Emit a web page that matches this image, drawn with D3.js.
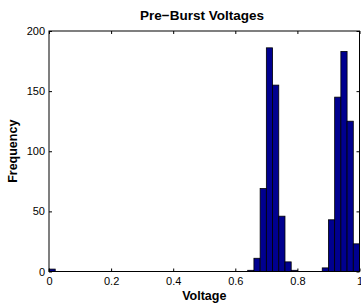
<!DOCTYPE html>
<html>
<head>
<meta charset="utf-8">
<script src="https://cdn.jsdelivr.net/npm/d3@7"></script>
<style>
  body { margin: 0; background: #fff; }
  svg { display: block; font-family: "Liberation Sans", Arial, sans-serif; }
</style>
</head>
<body>
<script>
// histogram bins: left edges (0.02 wide) and counts
let binStarts = d3.range(0, 50).map(i => +(i * 0.02).toFixed(2));
let counts = [
  2, 0, 0, 0, 0, 0, 0, 0, 0, 0,
  0, 0, 0, 0, 0, 0, 0, 0, 0, 0,
  0, 0, 0, 0, 0, 0, 0, 0, 0, 0,
  0, 0, 1, 11, 69, 186, 155, 46, 8, 1,
  0, 0, 0, 0, 3, 43, 145, 183, 125, 23
];
let xTicks = [0, 0.2, 0.4, 0.6, 0.8, 1];
let yTicks = [0, 50, 100, 150, 200];

let W = 361, H = 304;
let margin = {top: 31, right: 1.5, bottom: 32.5, left: 49};
let width = W - margin.left - margin.right,
    height = H - margin.top - margin.bottom;

let x = d3.scaleLinear().domain([0, 1]).range([0, width]);
let y = d3.scaleLinear().domain([0, 200]).range([height, 0]);

let svg = d3.select("body").append("svg")
    .attr("width", W)
    .attr("height", H);

let g = svg.append("g")
    .attr("transform", "translate(" + margin.left + "," + margin.top + ")");

// bars
g.selectAll(".bar")
    .data(counts)
    .enter()
  .append("rect")
    .attr("class", "bar")
    .attr("x", (d, i) => x(binStarts[i]))
    .attr("width", x(0.02) - x(0))
    .attr("y", d => y(d))
    .attr("height", d => y(0) - y(d))
    .attr("fill", "#00008f")
    .attr("stroke", "#000")
    .attr("stroke-width", 0.8);

// axes, ticks pointing inward like matlab
let tk = 3;
g.append("g")
    .attr("transform", "translate(0," + height + ")")
    .call(d3.axisBottom(x).tickValues(xTicks).tickSizeInner(-tk).tickSizeOuter(0)
      .tickPadding(6).tickFormat(d3.format("~g")))
    .call(a => a.selectAll("text").attr("font-size", 11).attr("fill", "#000").attr("font-family", null));
g.append("g")
    .call(d3.axisTop(x).tickValues(xTicks).tickSizeInner(-tk).tickSizeOuter(0).tickFormat(""));
g.append("g")
    .call(d3.axisLeft(y).tickValues(yTicks).tickSizeInner(-tk).tickSizeOuter(0).tickPadding(4))
    .call(a => a.selectAll("text").attr("font-size", 11).attr("fill", "#000").attr("font-family", null));
g.append("g")
    .attr("transform", "translate(" + width + ",0)")
    .call(d3.axisRight(y).tickValues(yTicks).tickSizeInner(-tk).tickSizeOuter(0).tickFormat(""));
g.selectAll(".domain").remove();

// box
g.append("rect")
    .attr("width", width)
    .attr("height", height)
    .attr("fill", "none")
    .attr("stroke", "#000")
    .attr("stroke-width", 1);

// labels
svg.append("text")
    .attr("x", 202)
    .attr("y", 20)
    .attr("text-anchor", "middle")
    .attr("font-size", 13.5)
    .attr("font-weight", "bold")
    .text("Pre\u2212Burst Voltages");

svg.append("text")
    .attr("x", margin.left + width / 2)
    .attr("y", 300)
    .attr("text-anchor", "middle")
    .attr("font-size", 12.5)
    .attr("font-weight", "bold")
    .text("Voltage");

svg.append("text")
    .attr("transform", "translate(17," + (margin.top + height / 2) + ") rotate(-90)")
    .attr("text-anchor", "middle")
    .attr("font-size", 12.5)
    .attr("font-weight", "bold")
    .text("Frequency");
</script>
</body>
</html>
